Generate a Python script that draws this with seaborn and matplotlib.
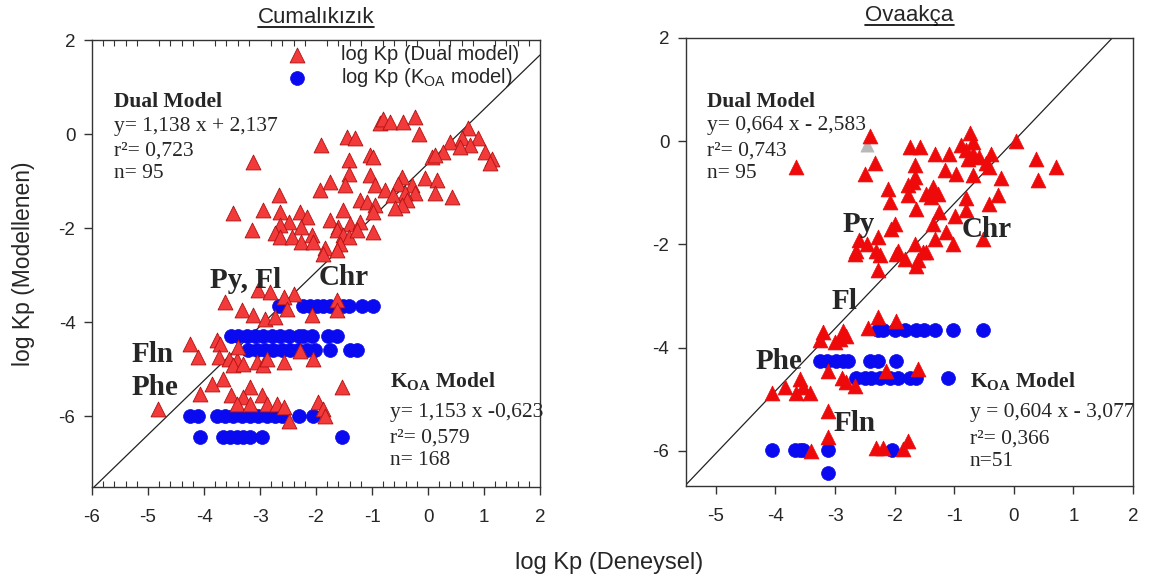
import numpy as np
import pandas as pd
import matplotlib
matplotlib.use("Agg")
import matplotlib.pyplot as plt
from matplotlib.ticker import MultipleLocator, FixedLocator
from matplotlib.lines import Line2D
import seaborn as sns

# Cumalıkızık - Dual model (log Kp deneysel, log Kp modellenen)
cum_dual_x = [-3.13, -1.91, -1.45, -1.30, -0.86, -0.80, -0.68, -0.44, -0.23, -0.17, 0.72, 0.39, 0.60, 0.90,
              0.75, 0.57, 0.27, 0.07, 0.13, 1.02, 1.14, 1.11, -1.04, -0.98, -1.42, -1.42, -1.04, -1.48, -1.75,
              -1.93, -0.95, -0.77, -0.47, -0.53, -0.29, -0.05, 0.16, -0.23, 0.13, 0.42, -0.41, -0.62, -0.38,
              -0.47, -0.59, -1.21, -1.09, -0.95, -0.98, -1.51, -2.67, -2.94, -2.64, -2.29, -2.17, -2.49, -2.64,
              -3.15, -3.48, -2.26, -2.73, -2.64, -2.43, -2.26, -2.08, -2.05, -1.75, -1.60, -1.39, -1.21, -1.63,
              -1.51, -1.42, -1.27, -0.98, -1.57, -1.84, -1.63, -1.87,
              -3.03, -2.82, -2.40, -2.58, -3.63, -3.33, -3.12, -2.91, -2.73, -2.52, -2.08, -1.63, -1.63, -4.25,
              -3.77, -3.71, -4.10, -3.74, -3.56, -3.42, -3.48, -3.30, -3.06, -2.94, -2.88, -2.58, -2.05, -3.39,
              -2.29, -3.66, -3.86, -4.07, -4.82, -1.54, -3.18, -3.51, -3.30, -2.97, -3.42, -3.18, -2.88, -2.70,
              -2.58, -1.96, -1.87, -1.84, -2.49]
cum_dual_y = [-0.59, -0.23, -0.06, -0.09, 0.23, 0.33, 0.26, 0.26, 0.36, 0.01, 0.12, -0.16, -0.09, -0.09,
              -0.23, -0.27, -0.38, -0.48, -0.45, -0.38, -0.52, -0.62, -0.45, -0.48, -0.55, -0.84, -0.87, -1.09,
              -1.01, -1.19, -1.09, -1.19, -0.91, -1.05, -1.09, -0.94, -0.98, -1.26, -1.26, -1.33, -1.26, -1.30,
              -1.40, -1.51, -1.58, -1.40, -1.44, -1.51, -1.65, -1.62, -1.30, -1.62, -1.65, -1.65, -1.76, -1.87,
              -1.94, -2.04, -1.67, -1.97, -2.11, -2.18, -2.18, -2.29, -2.15, -2.29, -1.83, -1.97, -1.90, -1.87,
              -2.04, -2.15, -2.18, -2.04, -2.08, -2.33, -2.43, -2.47, -2.54,
              -3.32, -3.35, -3.39, -3.46, -3.57, -3.74, -3.85, -3.92, -3.89, -3.71, -3.85, -3.53, -3.74, -4.45,
              -4.38, -4.45, -4.74, -4.74, -4.77, -4.81, -4.91, -4.88, -4.84, -4.91, -4.77, -4.84, -4.77, -4.53,
              -4.60, -5.20, -5.30, -5.52, -5.84, -5.37, -5.37, -5.55, -5.59, -5.55, -5.73, -5.73, -5.73, -5.73,
              -5.80, -5.70, -5.84, -5.98, -6.09]

# Cumalıkızık - KOA model
cum_koa_x = [-2.67, -2.23, -2.11, -1.99, -1.87, -1.75, -1.63, -1.51, -1.42, -1.18, -0.98,
             -3.51, -3.39, -3.24, -3.09, -2.94, -2.79, -2.64, -2.49, -2.31, -2.23, -2.08, -1.78, -1.63,
             -3.21, -3.06, -2.91, -2.76, -2.61, -2.46, -2.32, -2.17, -2.02, -1.75, -1.39, -1.27,
             -4.25, -4.10, -3.77, -3.63, -3.48, -3.33, -3.18, -3.03, -2.88, -2.73, -2.61, -2.31, -2.05,
             -4.07, -3.66, -3.54, -3.42, -3.30, -3.18, -2.97, -1.54]
cum_koa_y = [-3.66] * 11 + [-4.28] * 13 + [-4.58] * 12 + [-5.99] * 13 + [-6.44] * 8

# Ovaakça - Dual model
ova_dual_x = [-2.42, -3.65, -2.33, -2.50, -1.75, -1.58, -1.33, -1.08, -0.88, -0.74, -0.69, -0.80, -0.69,
              -0.77, -0.58, -0.38, -0.46, -0.41, 0.04, 0.37, 0.71, 0.40, -1.66, -1.16, -0.97, -0.69, -0.21,
              -1.66, -1.69, -1.78, -2.11, -2.08, -1.78, -1.47, -1.36, -1.27, -1.39, -0.80, -0.27, -0.41, -0.80,
              -0.99, -1.25, -1.64, -2.00, -2.06, -1.33, -1.13, -1.02, -0.52, -1.36, -2.59, -2.47, -2.28, -2.64,
              -2.31, -1.94, -1.66, -1.52,
              -2.67, -2.25, -1.97, -1.83, -1.61, -1.47, -1.64, -2.28, -2.28, -1.97, -2.45, -3.20, -2.87, -2.81,
              -3.26, -3.00, -2.92, -3.12, -2.89, -2.81, -2.67, -1.61, -2.14, -4.06, -3.84, -3.59, -3.65, -3.54,
              -3.42, -3.12, -3.12, -3.40, -2.31, -2.20, -1.86, -1.78]
ova_dual_y = [0.10, -0.50, -0.43, -0.63, -0.11, -0.11, -0.24, -0.24, -0.08, 0.15, -0.01, -0.17, -0.24,
              -0.34, -0.30, -0.24, -0.43, -0.50, 0.00, -0.34, -0.50, -0.76, -0.47, -0.56, -0.63, -0.66, -0.72,
              -0.69, -0.79, -0.85, -0.92, -1.18, -1.05, -1.02, -0.89, -1.02, -1.08, -1.11, -1.05, -1.21, -1.34,
              -1.44, -1.37, -1.31, -1.60, -1.70, -1.89, -1.76, -1.99, -1.89, -1.60, -1.92, -1.99, -1.86, -2.12,
              -2.12, -2.12, -1.99, -2.15,
              -2.18, -2.21, -2.18, -2.28, -2.31, -2.15, -2.41, -2.50, -3.41, -3.48, -3.61, -3.70, -3.67, -3.77,
              -3.86, -3.90, -3.83, -4.45, -4.58, -4.67, -4.74, -4.41, -4.45, -4.87, -4.77, -4.61, -4.87, -4.77,
              -4.87, -5.22, -5.74, -6.00, -5.94, -5.94, -5.97, -5.81]
ova_gray_x = [-2.47]
ova_gray_y = [-0.08]

# Ovaakça - KOA model
ova_koa_x = [-2.28, -2.19, -2.00, -1.83, -1.64, -1.50, -1.33, -1.02, -0.52,
             -3.26, -3.14, -2.98, -2.87, -2.78, -2.42, -2.28, -1.97,
             -2.64, -2.50, -2.39, -2.25, -2.08, -1.94, -1.75, -1.64, -1.11,
             -4.06, -3.67, -3.59, -3.53, -3.12, -2.05,
             -3.12]
ova_koa_y = [-3.65] * 9 + [-4.25] * 8 + [-4.58] * 9 + [-5.98] * 6 + [-6.42]

# reference line (slope, intercept)
cum_line = (1.153, -0.623)
ova_line = (1.21, 0.0)

sns.set_style("white")
plt.rcParams['font.family'] = ['Liberation Sans', 'DejaVu Sans']
plt.rcParams['axes.unicode_minus'] = False
plt.rcParams['mathtext.fontset'] = 'custom'
plt.rcParams['mathtext.rm'] = 'Liberation Serif'
plt.rcParams['mathtext.bf'] = 'Liberation Serif:bold'
plt.rcParams['mathtext.sf'] = 'Liberation Sans'

RED = "#f23a3a"
RED2 = "#ee0a0a"
BLUE = "#0a0af0"
SERIF = ['Liberation Serif', 'DejaVu Serif']
FS = 15.5   # annotation text
FB = 21     # compound labels

fig = plt.figure(figsize=(11.52, 5.82), dpi=100)
ax1 = fig.add_axes([0.0799, 0.1632, 0.3889, 0.7680])
ax2 = fig.add_axes([0.5955, 0.1650, 0.3880, 0.7698])


def style_axes(ax, xlim, ylim, xticks, minor):
    ax.set_xlim(*xlim)
    ax.set_ylim(*ylim)
    ax.set_xticks(xticks)
    ax.set_yticks([2, 0, -2, -4, -6])
    for s in ax.spines.values():
        s.set_color("#333333")
        s.set_linewidth(1.0)
    ax.tick_params(which='major', direction='out', length=6, width=1, color="#333333",
                   labelsize=13.5, bottom=True, left=True, pad=6)
    ax.tick_params(axis='x', which='major', pad=10)
    if minor:
        ax.xaxis.set_minor_locator(MultipleLocator(0.2))
        ax.yaxis.set_minor_locator(FixedLocator([2, 0, -2, -4, -6]))
        ax.tick_params(axis='x', which='minor', direction='in', length=4, width=0.8,
                       color="#333333", bottom=True, top=True)
        ax.tick_params(axis='y', which='minor', direction='in', length=4, width=0.8,
                       color="#333333", left=False, right=True)
    ax.set_xlabel("")
    ax.set_ylabel("")


# left panel
dual_c = pd.DataFrame({"x": cum_dual_x, "y": cum_dual_y})
koa_c = pd.DataFrame({"x": cum_koa_x, "y": cum_koa_y})
ax1.axline((0, cum_line[1]), slope=cum_line[0], color="#222222", lw=0.9, zorder=1)
sns.scatterplot(data=dual_c, x="x", y="y", ax=ax1, marker="^", s=115, color=RED,
                edgecolor="#b01010", linewidth=0.6, zorder=3, label="log Kp (Dual model)")
sns.scatterplot(data=koa_c, x="x", y="y", ax=ax1, marker="o", s=100, color=BLUE,
                edgecolor=BLUE, linewidth=0.5, zorder=2, label="log Kp (K$_{\\mathsf{OA}}$ model)")
style_axes(ax1, (-6, 2), (-7.5, 2), [-6, -5, -4, -3, -2, -1, 0, 1, 2], True)
ax1.legend(loc="upper left", bbox_to_anchor=(0.385, 1.015), frameon=False, fontsize=14.5,
           handletextpad=1.2, labelspacing=0.1, borderaxespad=0.2)

ax1.text(-5.6, 0.57, "Dual Model", family=SERIF, fontweight="bold", fontsize=FS)
ax1.text(-5.6, 0.06, "y= 1,138 x + 2,137", family=SERIF, fontsize=FS)
ax1.text(-5.6, -0.45, "r²= 0,723", family=SERIF, fontsize=FS)
ax1.text(-5.6, -0.94, "n= 95", family=SERIF, fontsize=FS)
ax1.text(-3.89, -3.26, "Py, Fl", family=SERIF, fontweight="bold", fontsize=FB)
ax1.text(-1.96, -3.21, "Chr", family=SERIF, fontweight="bold", fontsize=FB)
ax1.text(-5.30, -4.85, "Fln", family=SERIF, fontweight="bold", fontsize=FB)
ax1.text(-5.30, -5.55, "Phe", family=SERIF, fontweight="bold", fontsize=FB)
ax1.text(-0.68, -5.38, "K$_{\\mathbf{OA}}$ Model", family=SERIF, fontweight="bold", fontsize=FS)
ax1.text(-0.68, -6.01, "y= 1,153 x -0,623", family=SERIF, fontsize=FS)
ax1.text(-0.68, -6.56, "r²= 0,579", family=SERIF, fontsize=FS)
ax1.text(-0.68, -7.04, "n= 168", family=SERIF, fontsize=FS)
ax1.set_ylabel("log Kp (Modellenen)", fontsize=16.5, labelpad=17)

# right panel
dual_o = pd.DataFrame({"x": ova_dual_x, "y": ova_dual_y})
koa_o = pd.DataFrame({"x": ova_koa_x, "y": ova_koa_y})
gray_o = pd.DataFrame({"x": ova_gray_x, "y": ova_gray_y})
ax2.axline((0, ova_line[1]), slope=ova_line[0], color="#222222", lw=0.9, zorder=1)
sns.scatterplot(data=koa_o, x="x", y="y", ax=ax2, marker="o", s=100, color=BLUE,
                edgecolor=BLUE, linewidth=0.5, zorder=2)
sns.scatterplot(data=dual_o, x="x", y="y", ax=ax2, marker="^", s=115, color=RED2,
                edgecolor=RED2, linewidth=0.5, zorder=3)
sns.scatterplot(data=gray_o, x="x", y="y", ax=ax2, marker="^", s=90, color="#b8b8b8",
                edgecolor="#b8b8b8", linewidth=0.5, zorder=2)
style_axes(ax2, (-5.5, 2), (-6.68, 2), [-5, -4, -3, -2, -1, 0, 1, 2], False)

ax2.text(-5.15, 0.67, "Dual Model", family=SERIF, fontweight="bold", fontsize=FS)
ax2.text(-5.15, 0.21, "y= 0,664 x - 2,583", family=SERIF, fontsize=FS)
ax2.text(-5.15, -0.27, "r²= 0,743", family=SERIF, fontsize=FS)
ax2.text(-5.15, -0.72, "n= 95", family=SERIF, fontsize=FS)
ax2.text(-2.87, -1.76, "Py", family=SERIF, fontweight="bold", fontsize=FB)
ax2.text(-0.88, -1.86, "Chr", family=SERIF, fontweight="bold", fontsize=FB)
ax2.text(-3.06, -3.25, "Fl", family=SERIF, fontweight="bold", fontsize=FB)
ax2.text(-4.34, -4.41, "Phe", family=SERIF, fontweight="bold", fontsize=FB)
ax2.text(-3.03, -5.61, "Fln", family=SERIF, fontweight="bold", fontsize=FB)
ax2.text(-0.74, -4.77, "K$_{\\mathbf{OA}}$ Model", family=SERIF, fontweight="bold", fontsize=FS)
ax2.text(-0.74, -5.35, "y = 0,604 x - 3,077", family=SERIF, fontsize=FS)
ax2.text(-0.74, -5.86, "r²= 0,366", family=SERIF, fontsize=FS)
ax2.text(-0.74, -6.29, "n=51", family=SERIF, fontsize=FS)

fig.text(0.529, 0.033, "log Kp (Deneysel)", fontsize=17, ha="center", va="center")

# underlined titles
titles = []
for ax, name in [(ax1, "Cumalıkızık"), (ax2, "Ovaakça")]:
    t = ax.set_title(name, fontsize=16, pad=12)
    titles.append(t)
fig.canvas.draw()
inv = fig.transFigure.inverted()
for t in titles:
    bb = t.get_window_extent()
    (x0, y0), (x1, _) = inv.transform([(bb.x0, bb.y0), (bb.x1, bb.y1)])
    fig.add_artist(Line2D([x0, x1], [y0 + 0.003, y0 + 0.003], transform=fig.transFigure,
                          color="black", lw=1.2))

fig.savefig("out.png", dpi=100)
